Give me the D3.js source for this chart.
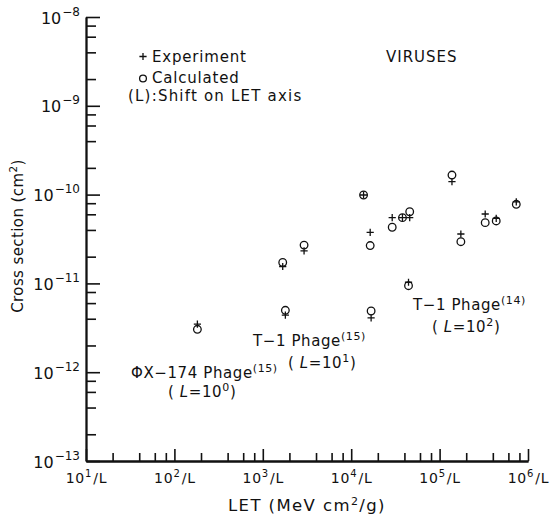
<!DOCTYPE html>
<html>
<head>
<meta charset="utf-8">
<script src="https://cdn.jsdelivr.net/npm/d3@7"></script>
<style>
  html, body { margin: 0; padding: 0; background: #fff; }
  svg { display: block; font-family: "DejaVu Sans", sans-serif; }
</style>
</head>
<body>
<svg id="chart" width="550" height="518"></svg>
<script>
// ---- data ----
// LET position on the shifted axis (value shown as 10^k / L)
const letValues   = [182, 1680, 2930, 1800, 16800, 13800, 16400, 29100, 38000, 45900, 44500, 138000, 174000, 328000, 437000, 737000];
// Experiment cross sections (cm^2)
const experiment  = [3.47e-12, 1.55e-11, 2.33e-11, 4.40e-12, 4.10e-12, 9.9e-11, 3.76e-11, 5.5e-11, 5.5e-11, 5.5e-11, 1.03e-11, 1.40e-10, 3.6e-11, 6.05e-11, 5.41e-11, 8.3e-11];
// Calculated cross sections (cm^2)
const calculated  = [3.04e-12, 1.72e-11, 2.70e-11, 4.98e-12, 4.89e-12, 9.9e-11, 2.67e-11, 4.29e-11, 5.5e-11, 6.41e-11, 9.42e-12, 1.66e-10, 2.95e-11, 4.83e-11, 5.05e-11, 7.78e-11];

const xTickValues    = [1e1, 1e2, 1e3, 1e4, 1e5, 1e6];
const xTickExponents = ["1", "2", "3", "4", "5", "6"];
const yTickValues    = [1e-13, 1e-12, 1e-11, 1e-10, 1e-9, 1e-8];
const yTickExponents = ["\u221213", "\u221212", "\u221211", "\u221210", "\u22129", "\u22128"];
const minorMultipliers = [2, 4, 6, 8];

const legendItems = ["Experiment", "Calculated"];
const annotations = [
  { main: "\u03A6X\u2212174 Phage", sup: "(15)", L: "0" },
  { main: "T\u22121 Phage", sup: "(15)", L: "1" },
  { main: "T\u22121 Phage", sup: "(14)", L: "2" }
];

// ---- layout ----
const svg = d3.select("#chart");
const plotLeft = 86, plotRight = 528, plotTop = 17, plotBottom = 461;

const x = d3.scaleLog().domain([1e1, 1e6]).range([plotLeft, plotRight]);
const y = d3.scaleLog().domain([1e-13, 1e-8]).range([plotBottom, plotTop]);

function minorTicks(domain) {
  const out = [];
  const lo = Math.round(Math.log10(domain[0])), hi = Math.round(Math.log10(domain[1]));
  for (let k = lo; k < hi; k++) minorMultipliers.forEach(m => out.push(m * Math.pow(10, k)));
  return out;
}

const axisStroke = 1.8;

// X axis: minor ticks
const gxMinor = svg.append("g").attr("transform", `translate(0,${plotBottom})`)
  .call(d3.axisBottom(x).tickValues(minorTicks(x.domain())).tickSizeInner(-8).tickSizeOuter(0).tickFormat(""));
// X axis: major ticks
const gx = svg.append("g").attr("transform", `translate(0,${plotBottom})`)
  .call(d3.axisBottom(x).tickValues(xTickValues).tickSizeInner(-12).tickSizeOuter(0).tickFormat(""));

// Y axis: minor ticks
const gyMinor = svg.append("g").attr("transform", `translate(${plotLeft},0)`)
  .call(d3.axisLeft(y).tickValues(minorTicks(y.domain())).tickSizeInner(-10).tickSizeOuter(0).tickFormat(""));
// Y axis: major ticks
const gy = svg.append("g").attr("transform", `translate(${plotLeft},0)`)
  .call(d3.axisLeft(y).tickValues(yTickValues).tickSizeInner(-14).tickSizeOuter(0).tickFormat(""));

[gxMinor, gx, gyMinor, gy].forEach(g => {
  g.select(".domain").attr("stroke", "#111").attr("stroke-width", axisStroke);
  g.selectAll(".tick line").attr("stroke", "#111").attr("stroke-width", 1.6);
  g.selectAll(".tick text").remove();
});

// X tick labels  10^k/L
gx.selectAll(".tick").each(function(d, i) {
  const t = d3.select(this).append("text")
    .attr("y", 22).attr("text-anchor", "middle")
    .attr("fill", "#111").attr("font-size", 14).attr("letter-spacing", 0.8)
    .attr("font-family", "DejaVu Sans, sans-serif");
  t.append("tspan").text("10");
  t.append("tspan").attr("dy", -6).attr("font-size", 10).text(xTickExponents[i]);
  t.append("tspan").attr("dy", 6).attr("dx", 1).text("/L");
});

// Y tick labels  10^-k
gy.selectAll(".tick").each(function(d, i) {
  const t = d3.select(this).append("text")
    .attr("x", -6).attr("y", 6).attr("text-anchor", "end")
    .attr("fill", "#111").attr("font-size", 16)
    .attr("font-family", "DejaVu Sans, sans-serif");
  t.append("tspan").text("10");
  t.append("tspan").attr("dy", -8).attr("dx", 1).attr("font-size", 12).text(yTickExponents[i]);
});

// Axis titles
const xt = svg.append("text").attr("x", (plotLeft + plotRight) / 2).attr("y", 511)
  .attr("text-anchor", "middle").attr("font-size", 16.5).attr("letter-spacing", 1.4).attr("fill", "#111");
xt.append("tspan").text("LET (MeV cm");
xt.append("tspan").attr("dy", -6).attr("font-size", 11).text("2");
xt.append("tspan").attr("dy", 6).text("/g)");

const yt = svg.append("text").attr("transform", "translate(23,236) rotate(-90)")
  .attr("text-anchor", "middle").attr("font-size", 15).attr("letter-spacing", 0.4).attr("fill", "#111");
yt.append("tspan").text("Cross section (cm");
yt.append("tspan").attr("dy", -6).attr("font-size", 10.5).text("2");
yt.append("tspan").attr("dy", 6).text(")");

// ---- markers ----
const markStroke = 1.3, plusHalf = 3.6, circR = 3.8;
const points = letValues.map((v, i) => ({ x: v, exp: experiment[i], calc: calculated[i] }));

svg.append("g").selectAll("circle").data(points).join("circle")
  .attr("cx", d => x(d.x)).attr("cy", d => y(d.calc)).attr("r", circR)
  .attr("fill", "none").attr("stroke", "#111").attr("stroke-width", markStroke);

svg.append("g").selectAll("path").data(points).join("path")
  .attr("d", d => {
    const cx = x(d.x), cy = y(d.exp);
    return `M${cx - plusHalf},${cy}H${cx + plusHalf}M${cx},${cy - plusHalf}V${cy + plusHalf}`;
  })
  .attr("fill", "none").attr("stroke", "#111").attr("stroke-width", markStroke);

// ---- legend ----
const legX = 143;
svg.append("path").attr("d", `M${legX - plusHalf},56.5H${legX + plusHalf}M${legX},${56.5 - plusHalf}V${56.5 + plusHalf}`)
  .attr("stroke", "#111").attr("stroke-width", markStroke).attr("fill", "none");
svg.append("circle").attr("cx", legX).attr("cy", 78.5).attr("r", 3.4)
  .attr("fill", "none").attr("stroke", "#111").attr("stroke-width", markStroke);
svg.append("text").attr("x", 152).attr("y", 62).attr("font-size", 15).attr("letter-spacing", 0.8).attr("fill", "#111").text(legendItems[0]);
svg.append("text").attr("x", 152).attr("y", 83).attr("font-size", 15).attr("letter-spacing", 0.8).attr("fill", "#111").text(legendItems[1]);
svg.append("text").attr("x", 128).attr("y", 101).attr("font-size", 15).attr("letter-spacing", 1.2).attr("fill", "#111").text("(L):Shift on LET axis");
svg.append("text").attr("x", 386).attr("y", 62).attr("font-size", 15).attr("letter-spacing", 1).attr("fill", "#111").text("VIRUSES");

// ---- annotations ----
const annPos = [
  { x: 131, y: 378, lx: 168, ly: 397 },
  { x: 253, y: 346, lx: 288, ly: 368 },
  { x: 413, y: 310, lx: 432, ly: 332 }
];
annotations.forEach((a, i) => {
  const p = annPos[i];
  const t = svg.append("text").attr("x", p.x).attr("y", p.y).attr("font-size", 15).attr("letter-spacing", 0.6).attr("fill", "#111");
  t.append("tspan").text(a.main);
  t.append("tspan").attr("dy", -6).attr("font-size", 11).text(a.sup);
  const l = svg.append("text").attr("x", p.lx).attr("y", p.ly).attr("font-size", 15).attr("letter-spacing", 0.6).attr("fill", "#111");
  l.append("tspan").text("( ");
  l.append("tspan").attr("font-style", "italic").text("L");
  l.append("tspan").text("=10");
  l.append("tspan").attr("dy", -6).attr("font-size", 11).text(a.L);
  l.append("tspan").attr("dy", 6).text(")");
});
</script>
</body>
</html>
